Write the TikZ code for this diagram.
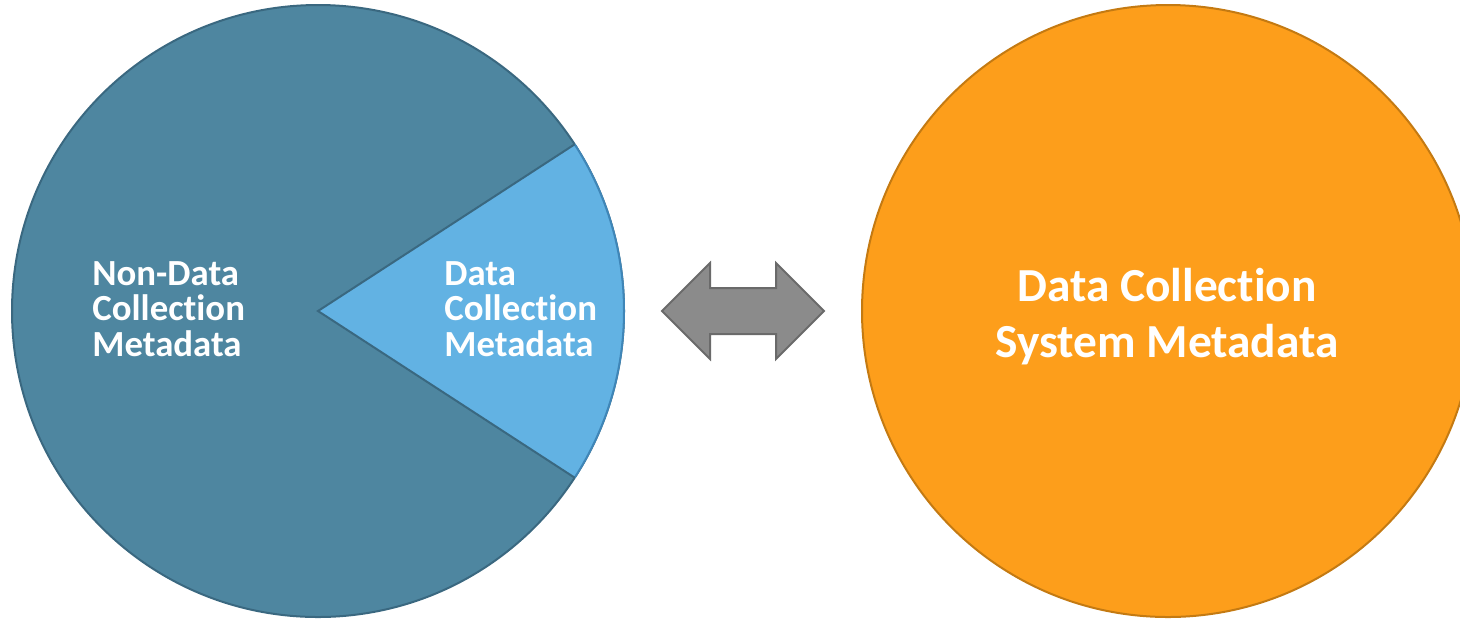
\documentclass[tikz,border=0pt]{standalone}
\usepackage{fontspec}
\setmainfont{Carlito}[RawFeature={-liga;-dlig}]
\definecolor{tealfill}{HTML}{4E86A0}
\definecolor{tealdraw}{HTML}{3A6880}
\definecolor{lightfill}{HTML}{62B2E3}
\definecolor{lightdraw}{HTML}{3F86B8}
\definecolor{orangefill}{HTML}{FD9E1B}
\definecolor{orangedraw}{HTML}{C47A12}
\definecolor{arrowfill}{HTML}{8B8B8B}
\definecolor{arrowdraw}{HTML}{6A6A6A}
\tikzset{
  small/.style={text=white, font=\bfseries\fontsize{18.4}{17.8}\selectfont, align=left, inner sep=0pt},
  big/.style={text=white, font=\bfseries\fontsize{23.7}{28}\selectfont, align=center, inner sep=0pt},
  disc/.style={circle, minimum size=306pt, inner sep=0pt, line width=1pt}
}
\begin{document}
\begin{tikzpicture}[x=0.5pt,y=-0.5pt]
\clip (0,0) rectangle (1460,618);
\node[disc, fill=tealfill, draw=tealdraw] (left) at (318,311) {};
\coordinate (ctr) at (318,311);
\fill[lightfill] (ctr) -- ++(-33:306) arc[start angle=-33, end angle=33, radius=306] -- cycle;
\draw[lightdraw, line width=1pt] ([shift={(-33:306)}]ctr) arc[start angle=-33, end angle=33, radius=306];
\draw[tealdraw, line width=1pt] ([shift={(33:306)}]ctr) -- (ctr) -- ([shift={(-33:306)}]ctr);
\node[disc, fill=orangefill, draw=orangedraw] (right) at (1168,311) {};
\draw[fill=arrowfill, draw=arrowdraw, line width=1pt]
  (662,311) -- (710,263) -- (710,288) -- (776,288) -- (776,263) -- (824,311)
  -- (776,359) -- (776,334) -- (710,334) -- (710,359) -- cycle;
\node[small, anchor=west] (nondata) at (92,309) {Non-Data\\Collection\\Metadata};
\node[small, anchor=west] (data) at (444,309) {Data\\Collection\\Metadata};
\node[big] (system) at (1167,317) {Data Collection\\System Metadata};
\end{tikzpicture}
\end{document}
